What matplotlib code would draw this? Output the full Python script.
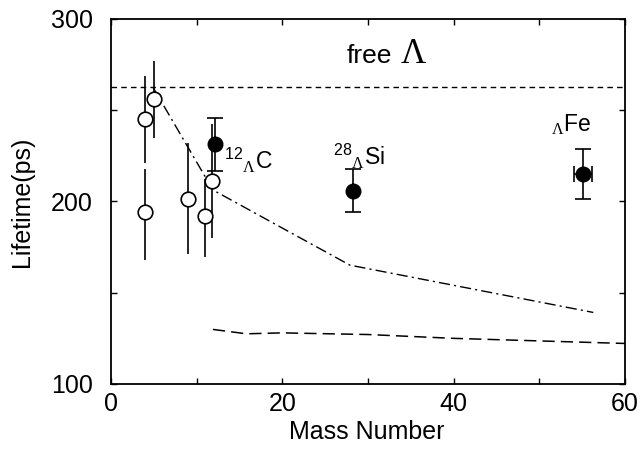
import matplotlib
matplotlib.use("Agg")
import matplotlib.pyplot as plt
from matplotlib.ticker import MultipleLocator

plt.rcParams["font.family"] = ["Liberation Sans", "DejaVu Sans"]
plt.rcParams["mathtext.fontset"] = "custom"
plt.rcParams["mathtext.rm"] = "Liberation Sans"
plt.rcParams["mathtext.it"] = "Liberation Sans:italic"
plt.rcParams["mathtext.sf"] = "Liberation Serif"

# === Data ===
# light hypernuclei (open circles)
light_a = [4, 4, 5, 9, 11, 11.75]
light_tau = [245, 194, 256, 201.3, 192.2, 211.2]
light_err_lo = [24, 26, 21, 30, 22.5, 31]
light_err_hi = [24, 24, 21, 30.5, 20, 31]

# this work (filled circles): 12C, 28Si, Fe
heavy_a = [12.15, 28.2, 55.1]
heavy_tau = [231.3, 206, 215]
heavy_yerr = [14.4, 11.6, 13.8]
heavy_xerr = [0, 0, 1.0]
heavy_labels = [r"$^{12}{}_{\mathsf{\Lambda}}$C", r"$^{28}{}_{\mathsf{\Lambda}}$Si",
                r"${}_{\mathsf{\Lambda}}$Fe"]
label_x = [13.2, 25.9, 51.4]
label_y = [218, 220, 238.8]

free_tau = 263

# model curves
dashdot_a = [4.9, 11.9, 27.9, 56.3]
dashdot_tau = [262.6, 206.3, 165.1, 139.2]
dashed_a = [11.9, 15.8, 20, 30, 40, 60]
dashed_tau = [129.9, 127.5, 128, 127.1, 125, 122.2]

fig = plt.figure(figsize=(6.4, 4.51), dpi=100)
ax = fig.add_axes([0.1734, 0.1486, 0.8031, 0.8093])

ax.axhline(free_tau, color="black", lw=1.0, ls=(0, (4, 3)))
ax.plot(dashdot_a, dashdot_tau, color="black", lw=1.0, ls=(0, (8, 3, 1.5, 3)))
ax.plot(dashed_a, dashed_tau, color="black", lw=1.1, ls=(0, (8, 4)))

ax.errorbar(light_a, light_tau, yerr=[light_err_lo, light_err_hi], fmt="o",
            mfc="white", mec="black", ms=10.5, mew=1.2, ecolor="black",
            elinewidth=1.2, capsize=0, zorder=3)
ax.errorbar(heavy_a, heavy_tau, yerr=heavy_yerr, xerr=heavy_xerr, fmt="o",
            mfc="black", mec="black", ms=10.5, ecolor="black",
            elinewidth=1.2, capsize=5.8, capthick=1.2, zorder=4)

for lab, x, y in zip(heavy_labels, label_x, label_y):
    ax.text(x, y, lab, fontsize=16.5, ha="left", va="baseline")

ax.text(27.5, 275.7, "free", fontsize=19, ha="left", va="baseline")
ax.text(36.8, 275.7, "\u039b", fontsize=25, ha="right", va="baseline",
        family="Liberation Serif")

ax.set_xlim(0, 60)
ax.set_ylim(100, 300)
ax.xaxis.set_major_locator(MultipleLocator(20))
ax.xaxis.set_minor_locator(MultipleLocator(10))
ax.yaxis.set_major_locator(MultipleLocator(100))
ax.yaxis.set_minor_locator(MultipleLocator(50))
ax.tick_params(which="both", direction="in", top=True, right=True,
               length=4, width=1.0, labelsize=18)
ax.tick_params(axis="y", pad=13)
ax.tick_params(axis="x", pad=6)
for s in ax.spines.values():
    s.set_linewidth(1.3)

fig.text(0.5734, 1 - 432 / 451, "Mass Number", fontsize=18,
         ha="center", va="center")
fig.text(22 / 640, 0.5533, "Lifetime(ps)", fontsize=18, rotation=90,
         ha="center", va="center")

fig.savefig("out.png", dpi=100)
